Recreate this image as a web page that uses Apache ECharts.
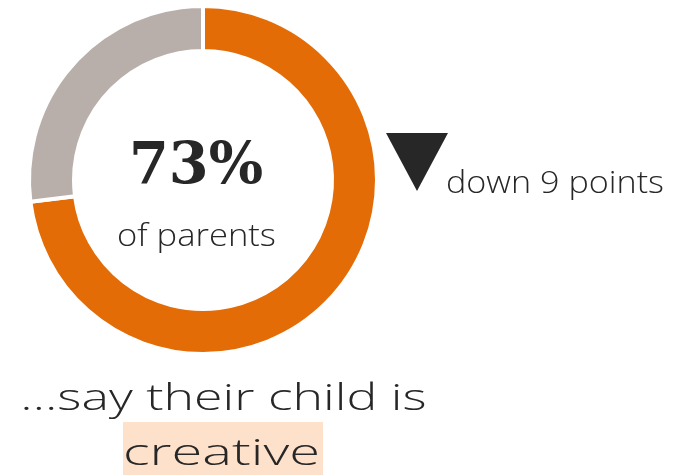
<!DOCTYPE html>
<html>
<head>
<meta charset="utf-8">
<script src="https://cdn.jsdelivr.net/npm/echarts@6/dist/echarts.min.js"></script>
<style>
  html, body { margin: 0; padding: 0; background: #fff; }
  #chart { width: 684px; height: 475px; }
</style>
</head>
<body>
<div id="chart"></div>
<script>
// Share of parents who say their child is creative
const sliceNames = ['say creative', 'other'];
const sliceValues = [73, 27];
const sliceColors = ['#E36C07', '#B8AFAA'];
const changePoints = -9;
const subject = 'of parents';
const headline = '…say their child is';
const highlight = 'creative';

const chart = echarts.init(document.getElementById('chart'), null, { renderer: 'canvas' });

const ink = '#272727';
const thinFont = '"Open Sans", "Lato", "DejaVu Sans", sans-serif';

// Measure a string so it can be placed by its inked box: left edge, width and baseline.
const probe = document.createElement('canvas').getContext('2d');
function fitText(str, font, left, width, baseline) {
  probe.font = font;
  probe.textBaseline = 'alphabetic';
  const a = probe.measureText(str);
  probe.textBaseline = 'middle';
  const m = probe.measureText(str);
  const midToBase = a.actualBoundingBoxAscent - m.actualBoundingBoxAscent;
  const inkW = a.actualBoundingBoxLeft + a.actualBoundingBoxRight;
  const s = width / inkW;
  return {
    type: 'text',
    x: left + s * a.actualBoundingBoxLeft,
    y: baseline - midToBase,
    scaleX: s,
    style: { text: str, font: font, fill: ink, align: 'left', verticalAlign: 'middle' }
  };
}

const changeText = (changePoints < 0 ? 'down ' : 'up ') + Math.abs(changePoints) + ' points';

chart.setOption({
  animation: false,
  series: [{
    type: 'pie',
    center: [203, 180],
    radius: [129, 174],
    startAngle: 90,
    clockwise: true,
    silent: true,
    label: { show: false },
    labelLine: { show: false },
    itemStyle: { borderColor: '#ffffff', borderWidth: 4 },
    data: sliceNames.map((n, i) => ({
      name: n,
      value: sliceValues[i],
      itemStyle: { color: sliceColors[i] }
    }))
  }],
  graphic: [
    fitText(sliceValues[0] + '%', 'bold 57px "DejaVu Serif", serif', 133, 129, 183),
    fitText(subject, '300 32px ' + thinFont, 118, 157, 246),
    {
      type: 'polygon',
      shape: { points: [[386, 133], [448, 133], [417, 191]] },
      style: { fill: ink }
    },
    fitText(changeText, '300 32px ' + thinFont, 447, 216, 193),
    {
      type: 'rect',
      shape: { x: 123, y: 422, width: 200, height: 53 },
      style: { fill: '#FDE1CB' }
    },
    fitText(headline, '300 37px ' + thinFont, 23, 402, 410),
    fitText(highlight, '300 37px ' + thinFont, 126, 192, 465)
  ]
});
</script>
</body>
</html>
